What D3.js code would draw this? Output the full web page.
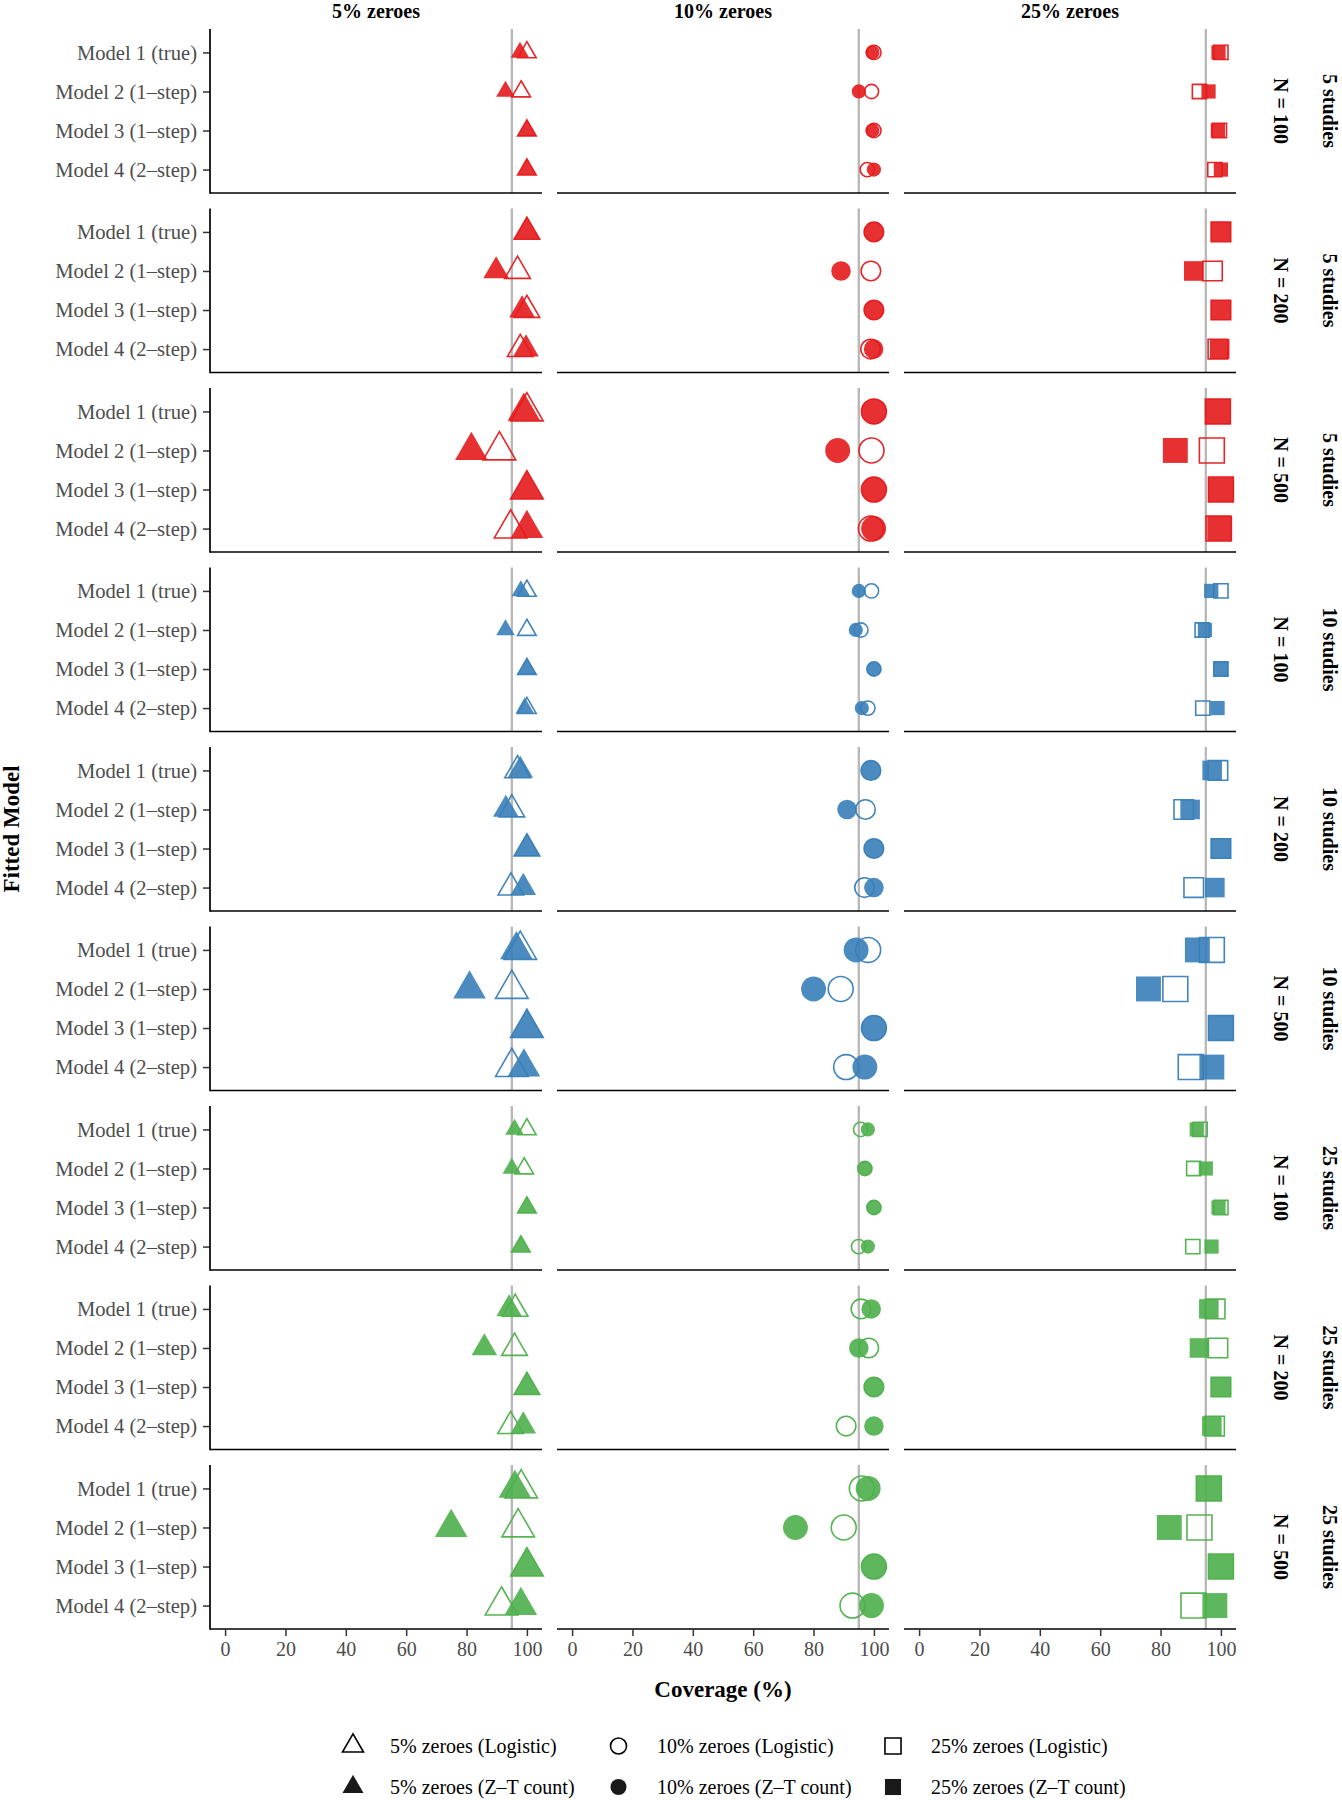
<!DOCTYPE html>
<html><head><meta charset="utf-8">
<script src="https://cdn.jsdelivr.net/npm/d3@7"></script>
<style>
body{margin:0;background:#fff}
svg{display:block}
text{font-family:"Liberation Serif","DejaVu Serif",serif}
</style>
</head><body>
<svg id="c" width="1342" height="1800"></svg>
<script>
// ---------- data ----------
const models = ["Model 1 (true)", "Model 2 (1\u2013step)", "Model 3 (1\u2013step)", "Model 4 (2\u2013step)"];
const zeroLevels = ["5% zeroes", "10% zeroes", "25% zeroes"];
const studyLabels = ["5 studies", "10 studies", "25 studies"];
const nLabels = ["N = 100", "N = 200", "N = 500"];
const xTicks = [0, 20, 40, 60, 80, 100];
const nominal = 95;
const legendLabels = [
  ["5% zeroes (Logistic)", "10% zeroes (Logistic)", "25% zeroes (Logistic)"],
  ["5% zeroes (Z\u2013T count)", "10% zeroes (Z\u2013T count)", "25% zeroes (Z\u2013T count)"]
];

// coverage (%) : [zero level][model]
const logit_s5_n100  = [[100, 98.1, 100, 100], [100, 99.2, 100, 97.8], [100, 92.9, 99.5, 98]];
const ztc_s5_n100    = [[97.7, 92.9, 100, 100], [99.5, 95, 99.5, 100], [99.2, 95.9, 99, 100]];
const logit_s5_n200  = [[100, 96.9, 100, 97.8], [100, 99, 100, 98.9], [100, 97.2, 100, 99]];
const ztc_s5_n200    = [[100, 89.8, 98.4, 99.7], [100, 89.1, 100, 99.9], [100, 91, 100, 99.6]];
const logit_s5_n500  = [[100, 90.9, 100, 94.6], [100, 99.2, 100, 99], [99, 97, 100, 99.2]];
const ztc_s5_n500    = [[99, 81.6, 100, 100], [100, 88, 100, 99.9], [99, 84.9, 100, 99.6]];
const logit_s10_n100 = [[100, 100, 100, 100], [99.2, 95.7, 100, 98], [100, 93.8, 100, 94]];
const ztc_s10_n100   = [[98, 92.9, 100, 99.3], [95, 94, 100, 96], [96.8, 94.7, 100, 98.9]];
const logit_s10_n200 = [[96.9, 95, 100, 94.7], [99, 97.2, 100, 96.9], [99, 87.7, 100, 91]];
const ztc_s10_n200   = [[97.8, 93, 100, 98.8], [99.1, 91.1, 100, 100], [97.1, 89.8, 100, 98]];
const logit_s10_n500 = [[97.8, 95, 100, 95], [98.1, 89, 100, 90.8], [97, 84.9, 100, 90]];
const ztc_s10_n500   = [[96.5, 81, 100, 99], [94.1, 80, 100, 97], [92.2, 76, 100, 97]];
const logit_s25_n100 = [[100, 99.1, 100, 98], [95.6, 97, 100, 94.9], [93.1, 91, 100, 90.7]];
const ztc_s25_n100   = [[95.9, 95, 100, 98], [98, 97.1, 100, 98], [92, 95, 99.2, 96.9]];
const logit_s25_n200 = [[96.1, 95.9, 100, 94.6], [95.7, 98.3, 100, 90.8], [98.1, 99, 100, 97.9]];
const ztc_s25_n200   = [[94.1, 85.9, 100, 98.8], [99.1, 95, 100, 100], [96, 92.9, 100, 97]];
const logit_s25_n500 = [[98.1, 97.1, 100, 91.6], [96, 90, 100, 92.9], [96, 92.9, 100, 90.9]];
const ztc_s25_n500   = [[96, 74.9, 100, 98], [98.1, 74, 100, 99.2], [96, 82.9, 100, 98]];

const logitByRow = [logit_s5_n100, logit_s5_n200, logit_s5_n500,
                    logit_s10_n100, logit_s10_n200, logit_s10_n500,
                    logit_s25_n100, logit_s25_n200, logit_s25_n500];
const ztcByRow = [ztc_s5_n100, ztc_s5_n200, ztc_s5_n500,
                  ztc_s10_n100, ztc_s10_n200, ztc_s10_n500,
                  ztc_s25_n100, ztc_s25_n200, ztc_s25_n500];

// ---------- layout ----------
const colLeft = [210, 557, 904], colW = 332;
const rowTop0 = 29, rowH = 164, rowPitch = 179.5;
const colors = ["#E41A1C", "#377EB8", "#4DAF4A"];
const sizeByN = [6.9, 9.5, 12.1];

const svg = d3.select("#c");
const x = d3.scaleLinear().domain([-5, 105]).range([0, colW]);
const y = d3.scalePoint().domain(models).range([0, rowH]).padding(0.6);

function shapePath(kind, s) {
  if (kind === 0) { // triangle (R pch geometry)
    const r = 1.555 * s, yc = 0.777 * s, hw = 1.347 * s;
    return `M0,${-r}L${hw},${yc}L${-hw},${yc}Z`;
  } else if (kind === 1) {
    const r = 1.03 * s;
    return `M${r},0A${r},${r} 0 1,1 ${-r},0A${r},${r} 0 1,1 ${r},0Z`;
  } else {
    const h = 1.03 * s;
    return `M${-h},${-h}H${h}V${h}H${-h}Z`;
  }
}

for (let ri = 0; ri < 9; ri++) {
  const si = Math.floor(ri / 3), ni = ri % 3;
  const top = rowTop0 + ri * rowPitch;
  const col = colors[si];
  const sz = sizeByN[ni];
  for (let ci = 0; ci < 3; ci++) {
    const g = svg.append("g").attr("transform", `translate(${colLeft[ci]},${top})`);
    // reference line
    g.append("line").attr("x1", x(nominal)).attr("x2", x(nominal))
      .attr("y1", 0).attr("y2", rowH)
      .attr("stroke", "#b8b8b8").attr("stroke-width", 2.4);
    // points: logistic (open), then Z-T count (filled)
    const lg = logitByRow[ri][ci], zt = ztcByRow[ri][ci];
    g.selectAll("path.open").data(models).enter().append("path")
      .attr("class", "open")
      .attr("d", shapePath(ci, sz))
      .attr("transform", (m, i) => `translate(${x(lg[i])},${y(m)})`)
      .attr("fill", "none").attr("stroke", col).attr("stroke-width", 1.6)
      .attr("stroke-opacity", 0.95);
    g.selectAll("path.fill").data(models).enter().append("path")
      .attr("class", "fill")
      .attr("d", shapePath(ci, sz))
      .attr("transform", (m, i) => `translate(${x(zt[i])},${y(m)})`)
      .attr("fill", col).attr("fill-opacity", 0.9);
    // bottom axis line
    g.append("line").attr("x1", 0).attr("x2", colW).attr("y1", rowH).attr("y2", rowH)
      .attr("stroke", "#000").attr("stroke-width", 1.5);
    if (ci === 0) {
      const ax = g.append("g").call(d3.axisLeft(y).tickSize(7).tickPadding(6));
      ax.select(".domain").remove();
      ax.selectAll(".tick line").attr("stroke", "#333").attr("stroke-width", 1.5);
      ax.selectAll(".tick text").attr("font-size", 20.6).attr("fill", "#4d4d4d")
        .attr("font-family", "Liberation Serif, serif");
      g.append("line").attr("x1", 0).attr("x2", 0).attr("y1", 0).attr("y2", rowH + 0.75)
        .attr("stroke", "#000").attr("stroke-width", 1.7);
    }
    if (ri === 8) {
      const bx = g.append("g").attr("transform", `translate(0,${rowH})`)
        .call(d3.axisBottom(x).tickValues(xTicks).tickSize(7).tickPadding(6));
      bx.select(".domain").remove();
      bx.selectAll(".tick line").attr("stroke", "#333").attr("stroke-width", 1.5);
      bx.selectAll(".tick text").attr("font-size", 20).attr("fill", "#4d4d4d")
        .attr("font-family", "Liberation Serif, serif");
    }
  }
  // right strips
  const cy = top + rowH / 2;
  svg.append("text").attr("transform", `translate(1281,${cy}) rotate(90)`)
    .attr("text-anchor", "middle").attr("dy", "0.35em")
    .attr("font-size", 20).attr("font-weight", "bold").text(nLabels[ni]);
  svg.append("text").attr("transform", `translate(1330,${cy}) rotate(90)`)
    .attr("text-anchor", "middle").attr("dy", "0.35em")
    .attr("font-size", 20).attr("font-weight", "bold").text(studyLabels[si]);
}

// column headers
zeroLevels.forEach((z, ci) => {
  svg.append("text").attr("x", colLeft[ci] + colW / 2).attr("y", 18)
    .attr("text-anchor", "middle").attr("font-size", 20).attr("font-weight", "bold").text(z);
});

// axis titles
const plotTop = rowTop0, plotBot = rowTop0 + 8 * rowPitch + rowH;
svg.append("text").attr("transform", `translate(11,${(plotTop + plotBot) / 2}) rotate(-90)`)
  .attr("text-anchor", "middle").attr("dy", "0.35em")
  .attr("font-size", 23).attr("font-weight", "bold").text("Fitted Model");
svg.append("text").attr("x", (colLeft[0] + colLeft[2] + colW) / 2).attr("y", 1697)
  .attr("text-anchor", "middle").attr("font-size", 23).attr("font-weight", "bold").text("Coverage (%)");

// legend
const legSymX = [353, 618.5, 893], legTxtX = [390, 657, 931], legY = [1746, 1787];
legendLabels.forEach((row, r) => {
  row.forEach((lab, ci) => {
    const p = svg.append("path").attr("d", shapePath(ci, 7.8))
      .attr("transform", `translate(${legSymX[ci]},${legY[r]})`);
    if (r === 0) p.attr("fill", "none").attr("stroke", "#000").attr("stroke-width", 1.6);
    else p.attr("fill", "#000").attr("fill-opacity", 0.9);
    svg.append("text").attr("x", legTxtX[ci]).attr("y", legY[r]).attr("dy", "0.35em")
      .attr("font-size", 20).attr("fill", "#000").text(lab);
  });
});
</script>
</body></html>
